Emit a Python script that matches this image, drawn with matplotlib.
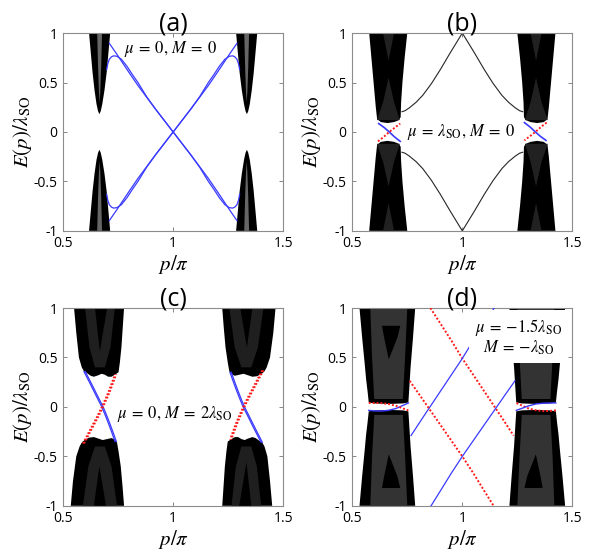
import numpy as np
import matplotlib.pyplot as plt

plt.rcParams['font.family'] = ['Open Sans', 'DejaVu Sans']
plt.rcParams['mathtext.fontset'] = 'stix'
plt.rcParams['axes.unicode_minus'] = False

# ---------------- data ----------------
x_ticks = [0.5, 1.0, 1.5]
x_ticklabels = ['0.5', '1', '1.5']
y_ticks = [-1, -0.5, 0, 0.5, 1]
y_ticklabels = ['-1', '-0.5', '0', '0.5', '1']
titles = ['(a)', '(b)', '(c)', '(d)']
notes = [r'$\mu\:=\:0,\,M\:=\:0$',
         r'$\mu\:=\:\lambda_{\rm SO},\,M\:=\:0$',
         r'$\mu\:=\:0,\,M\:=\:2\lambda_{\rm SO}$',
         '$\\mu\\:=\\:-1.5\\lambda_{\\rm SO}$\n$M\\:=\\:-\\lambda_{\\rm SO}$']
note_p = [0.99, 0.995, 1.005, 1.255]
note_E = [0.835, 0.0, -0.075, 0.705]

# (a) bulk spike (upper left one), grey core, edge states (upper-left half)
a_bulk_p = [0.618, 0.626, 0.634, 0.643, 0.652, 0.659, 0.665, 0.671, 0.678, 0.688, 0.698, 0.706, 0.714]
a_bulk_E = [1.00, 0.80, 0.60, 0.42, 0.28, 0.21, 0.18, 0.21, 0.28, 0.42, 0.60, 0.80, 1.00]
a_core_p = [0.655, 0.659, 0.663, 0.666, 0.669, 0.673, 0.677]
a_core_E = [1.00, 0.65, 0.40, 0.30, 0.40, 0.65, 1.00]
a_line_p = [0.710, 0.74, 0.77, 0.80, 0.84, 0.88, 0.92, 0.96, 1.00]
a_line_E = [0.896, 0.80, 0.70, 0.60, 0.47, 0.35, 0.23, 0.115, 0.00]
a_hook_p = [0.698, 0.703, 0.710, 0.720, 0.730, 0.745, 0.765, 0.790, 0.815, 0.840, 0.88, 0.92, 0.96, 1.00]
a_hook_E = [0.63, 0.69, 0.735, 0.76, 0.77, 0.765, 0.735, 0.665, 0.58, 0.50, 0.355, 0.232, 0.116, 0.00]

# (b)
b_bulk_p = [0.577, 0.587, 0.597, 0.607, 0.613, 0.630, 0.660, 0.690, 0.712, 0.720, 0.722, 0.728, 0.738, 0.750]
b_bulk_E = [1.00, 0.75, 0.50, 0.25, 0.13, 0.10, 0.09, 0.10, 0.12, 0.15, 0.30, 0.50, 0.75, 1.00]
b_tex1_p = [0.612, 0.640, 0.665, 0.690, 0.716]
b_tex1_E = [0.12, 0.30, 0.55, 0.30, 0.12]
b_tex2_p = [0.640, 0.665, 0.690]
b_tex2_E = [1.00, 0.72, 1.00]
b_arc_p = [0.726, 0.74, 0.76, 0.79, 0.82, 0.86, 0.90, 0.945, 1.00]
b_arc_E = [0.205, 0.215, 0.245, 0.30, 0.37, 0.49, 0.63, 0.80, 1.00]
b_blue_p = [0.620, 0.645, 0.668, 0.692, 0.718]
b_blue_E = [0.085, 0.045, 0.000, -0.050, -0.095]
b_red_p = [0.617, 0.643, 0.668, 0.694, 0.718]
b_red_E = [-0.095, -0.050, 0.000, 0.045, 0.085]

# (c)
c_up_p = [0.550, 0.560, 0.572, 0.585, 0.595, 0.610, 0.625, 0.640, 0.660, 0.675, 0.690, 0.705, 0.720,
          0.735, 0.752, 0.758, 0.765, 0.771, 0.777]
c_up_E = [1.00, 0.75, 0.50, 0.40, 0.36, 0.34, 0.315, 0.305, 0.32, 0.335, 0.325, 0.305, 0.305,
          0.325, 0.35, 0.45, 0.60, 0.80, 1.00]
c_up_tex_p = [0.600, 0.620, 0.645, 0.690, 0.715, 0.735]
c_up_tex_E = [1.00, 0.60, 0.40, 0.40, 0.60, 1.00]
c_up_tongue_p = [0.645, 0.667, 0.700]
c_up_tongue_E = [1.00, 0.56, 1.00]
c_lo_p = [0.535, 0.545, 0.560, 0.575, 0.585, 0.600, 0.620, 0.640, 0.660, 0.680, 0.700, 0.720, 0.735,
          0.745, 0.752, 0.762, 0.770, 0.777]
c_lo_E = [-1.00, -0.75, -0.50, -0.40, -0.36, -0.33, -0.31, -0.305, -0.32, -0.335, -0.325, -0.315, -0.33,
          -0.36, -0.45, -0.60, -0.80, -1.00]
c_lo_tex_p = [0.590, 0.615, 0.645, 0.690, 0.720, 0.745]
c_lo_tex_E = [-1.00, -0.60, -0.40, -0.40, -0.60, -1.00]
c_lo_tongue_p = [0.640, 0.665, 0.695]
c_lo_tongue_E = [-1.00, -0.60, -1.00]
c_blue_p1 = [0.595, 0.615, 0.635, 0.655, 0.676, 0.690, 0.705, 0.720, 0.736]
c_blue_p2 = [0.601, 0.621, 0.641, 0.661, 0.682, 0.696, 0.711, 0.726, 0.742]
c_blue_E = [0.357, 0.27, 0.182, 0.092, 0.0, -0.075, -0.16, -0.25, -0.35]
c_red_p1 = [0.590, 0.610, 0.630, 0.655, 0.676, 0.690, 0.705, 0.720, 0.736]
c_red_p2 = [0.596, 0.616, 0.636, 0.661, 0.682, 0.696, 0.711, 0.726, 0.742]
c_red_E = [-0.37, -0.285, -0.20, -0.095, 0.0, 0.07, 0.145, 0.235, 0.33]

# (d)
d_bulk_p = [0.533, 0.545, 0.556, 0.563, 0.570, 0.575, 0.600, 0.665, 0.730, 0.755, 0.758, 0.765, 0.776, 0.786]
d_bulk_E = [1.00, 0.70, 0.45, 0.28, 0.15, 0.045, 0.035, 0.03, 0.035, 0.045, 0.15, 0.40, 0.70, 1.00]
d_tex_p = [0.582, 0.590, 0.600, 0.730, 0.740, 0.750]
d_tex_E = [1.00, 0.50, 0.08, 0.08, 0.50, 1.00]
d_tongue_p = [0.635, 0.645, 0.666, 0.705, 0.718]
d_tongue_E = [0.82, 0.70, 0.48, 0.70, 0.82]
d_red1_p = [0.855, 0.90, 0.95, 1.00, 1.06, 1.12, 1.18, 1.233]
d_red1_E = [1.00, 0.845, 0.672, 0.49, 0.29, 0.09, -0.11, -0.29]
d_red2_p = [0.761, 0.80, 0.85, 0.90, 0.95, 1.00, 1.05, 1.10, 1.142]
d_red2_E = [0.263, 0.14, -0.02, -0.18, -0.34, -0.50, -0.67, -0.85, -1.00]
d_arc_blue_p = [0.575, 0.60, 0.63, 0.665, 0.70, 0.73, 0.755]
d_arc_blue_E = [-0.035, -0.04, -0.042, -0.035, -0.015, 0.015, 0.04]
d_arc_red_p = [0.575, 0.60, 0.63, 0.665, 0.70, 0.73, 0.755]
d_arc_red_E = [0.04, 0.04, 0.038, 0.03, 0.01, -0.015, -0.035]

blue = '#3a3aff'
red = '#ff1a1a'
dots = (0, (1, 1))


def same(p, E):
    return np.asarray(p), np.asarray(E)


def inv(p, E):
    # point inversion about (p, E) = (1, 0)
    return 2 - np.asarray(p), -np.asarray(E)


def flip_p(p, E):
    return 2 - np.asarray(p), np.asarray(E)


def flip_E(p, E):
    return np.asarray(p), -np.asarray(E)


def join_inv(p, E):
    # branch from one side up to (1,0) plus its inverted image
    ip, iE = inv(p, E)
    return np.concatenate([p, ip[::-1]]), np.concatenate([E, iE[::-1]])


fig = plt.figure(figsize=(5.95, 5.51), dpi=100)
pos = [[0.106, 0.581, 0.370, 0.359], [0.592, 0.581, 0.370, 0.359],
       [0.106, 0.082, 0.370, 0.359], [0.592, 0.082, 0.370, 0.359]]
axs = [fig.add_axes(q) for q in pos]

# (a)
ax = axs[0]
for f in [same, flip_E, flip_p, inv]:
    ax.fill(*f(a_bulk_p, a_bulk_E), color='black', lw=0, zorder=1)
    ax.fill(*f(a_core_p, a_core_E), color='0.4', lw=0, zorder=1.5)
for bp, bE in [(a_line_p, a_line_E), (a_hook_p, a_hook_E)]:
    lp, lE = join_inv(bp, bE)
    ax.plot(lp, lE, color=blue, lw=0.9, zorder=3)
    ax.plot(*flip_p(lp, lE), color=blue, lw=0.9, zorder=3)

# (b)
ax = axs[1]
for f in [same, flip_E, flip_p, inv]:
    ax.fill(*f(b_bulk_p, b_bulk_E), color='black', lw=0, zorder=1)
    ax.fill(*f(b_tex1_p, b_tex1_E), color='0.13', lw=0, zorder=1.5)
    ax.fill(*f(b_tex2_p, b_tex2_E), color='0.13', lw=0, zorder=1.5)
arc_p = np.concatenate([b_arc_p, flip_p(b_arc_p, b_arc_E)[0][::-1]])
arc_E = np.concatenate([b_arc_E, b_arc_E[::-1]])
ax.plot(arc_p, arc_E, color='0.15', lw=0.8, zorder=2)
ax.plot(arc_p, -arc_E, color='0.15', lw=0.8, zorder=2)
for f in [same, inv]:
    ax.plot(*f(b_blue_p, b_blue_E), color=blue, lw=1.2, zorder=3)
    ax.plot(*f(b_red_p, b_red_E), color=red, lw=1.4, ls=dots, zorder=3)

# (c)
ax = axs[2]
for f in [same, inv]:
    ax.fill(*f(c_up_p, c_up_E), color='black', lw=0, zorder=1)
    ax.fill(*f(c_lo_p, c_lo_E), color='black', lw=0, zorder=1)
    ax.fill(*f(c_up_tex_p, c_up_tex_E), color='0.12', lw=0, zorder=1.5)
    ax.fill(*f(c_lo_tex_p, c_lo_tex_E), color='0.12', lw=0, zorder=1.5)
    ax.fill(*f(c_up_tongue_p, c_up_tongue_E), color='black', lw=0, zorder=1.6)
    ax.fill(*f(c_lo_tongue_p, c_lo_tongue_E), color='black', lw=0, zorder=1.6)
    for cp in [c_blue_p1, c_blue_p2]:
        ax.plot(*f(cp, c_blue_E), color=blue, lw=0.9, zorder=3)
    for cp in [c_red_p1, c_red_p2]:
        ax.plot(*f(cp, c_red_E), color=red, lw=1.3, ls=dots, zorder=3)

# (d)
ax = axs[3]
for f in [same, flip_E, flip_p, inv]:
    ax.fill(*f(d_bulk_p, d_bulk_E), color='black', lw=0, zorder=1)
    ax.fill(*f(d_tex_p, d_tex_E), color='0.2', lw=0, zorder=1.5)
    ax.fill(*f(d_tongue_p, d_tongue_E), color='black', lw=0, zorder=1.6)
for rp, rE in [(d_red1_p, d_red1_E), (d_red2_p, d_red2_E)]:
    ax.plot(rp, rE, color=red, lw=1.4, ls=dots, zorder=3)
    ax.plot(*flip_p(rp, rE), color=blue, lw=0.9, zorder=3)
ax.plot(d_arc_blue_p, d_arc_blue_E, color=blue, lw=1.0, zorder=3)
ax.plot(d_arc_red_p, d_arc_red_E, color=red, lw=1.4, ls=dots, zorder=3)
ax.plot(*flip_p(d_arc_blue_p, d_arc_blue_E), color=red, lw=1.4, ls=dots, zorder=3)
ax.plot(*flip_p(d_arc_red_p, d_arc_red_E), color=blue, lw=1.0, zorder=3)

for i, ax in enumerate(axs):
    ax.set_xlim(0.5, 1.5)
    ax.set_ylim(-1, 1)
    ax.set_xticks(x_ticks)
    ax.set_xticklabels(x_ticklabels)
    ax.set_yticks(y_ticks)
    ax.set_yticklabels(y_ticklabels)
    ax.tick_params(direction='in', length=3, width=0.6, color='0.45',
                   top=True, right=True, labelsize=10, pad=4)
    for s in ax.spines.values():
        s.set_color('0.55')
        s.set_linewidth(0.8)
    ax.set_xlabel(r'$p/\pi$', fontsize=15, labelpad=1)
    ax.set_ylabel(r'$E(p)/\lambda_{\rm SO}$', fontsize=15, labelpad=0)
    ax.set_title(titles[i], fontsize=18, pad=2)
    box = None
    if i == 3:
        box = dict(facecolor='white', edgecolor='none', boxstyle='square,pad=0.35')
    ax.text(note_p[i], note_E[i], notes[i], fontsize=12, ha='center', va='center',
            multialignment='center', linespacing=1.0, zorder=5, bbox=box)

fig.savefig('out.png', dpi=100)
